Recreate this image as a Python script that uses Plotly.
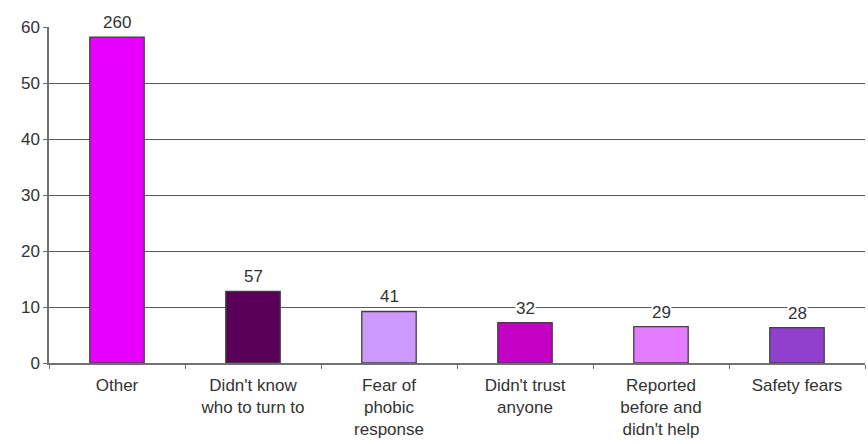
import plotly.graph_objects as go

categories = ["Other", "Didn't know<br>who to turn to", "Fear of<br>phobic<br>response",
              "Didn't trust<br>anyone", "Reported<br>before and<br>didn't help", "Safety fears"]
percent = [58.2, 12.8, 9.2, 7.2, 6.5, 6.3]
counts = ["260", "57", "41", "32", "29", "28"]
colors = ["#E800FF", "#5A0058", "#CC99FF", "#C400C4", "#E47CFF", "#9040CC"]
y_ticks = [0, 10, 20, 30, 40, 50, 60]

font_family = "Liberation Sans, Arial, sans-serif"
fsize = 17

fig = go.Figure()
fig.add_trace(go.Bar(
    x=categories, y=percent,
    marker=dict(color=colors, line=dict(color="#404040", width=1.3)),
    width=0.4,
    hoverinfo="skip",
))

for c, v, t in zip(categories, percent, counts):
    fig.add_annotation(x=c, y=v, text=t, showarrow=False, yanchor="bottom",
                       yshift=4, bgcolor="white", borderpad=0,
                       font=dict(family=font_family, size=fsize, color="#333333"))

fig.update_layout(
    width=868, height=444,
    margin=dict(l=49, r=3, t=27, b=81),
    paper_bgcolor="white", plot_bgcolor="white",
    showlegend=False,
    font=dict(family=font_family, size=fsize, color="#333333"),
    xaxis=dict(
        automargin=False,
        showline=True, linecolor="#707070", linewidth=1.5,
        ticks="outside", tickson="boundaries", ticklen=4, tickcolor="#707070",
        ticklabelstandoff=6,
        showgrid=False, tickfont=dict(size=fsize),
    ),
    yaxis=dict(
        automargin=False,
        range=[0, 60], tickvals=y_ticks,
        showline=True, linecolor="#707070", linewidth=1.5,
        ticks="outside", ticklen=4, tickcolor="#707070",
        showgrid=True, gridcolor="#5a5a5a", gridwidth=1,
        zeroline=False, tickfont=dict(size=fsize),
    ),
)

fig.write_html("out.html", config={"displayModeBar": False},
               post_script="document.body.style.margin='0px';")
